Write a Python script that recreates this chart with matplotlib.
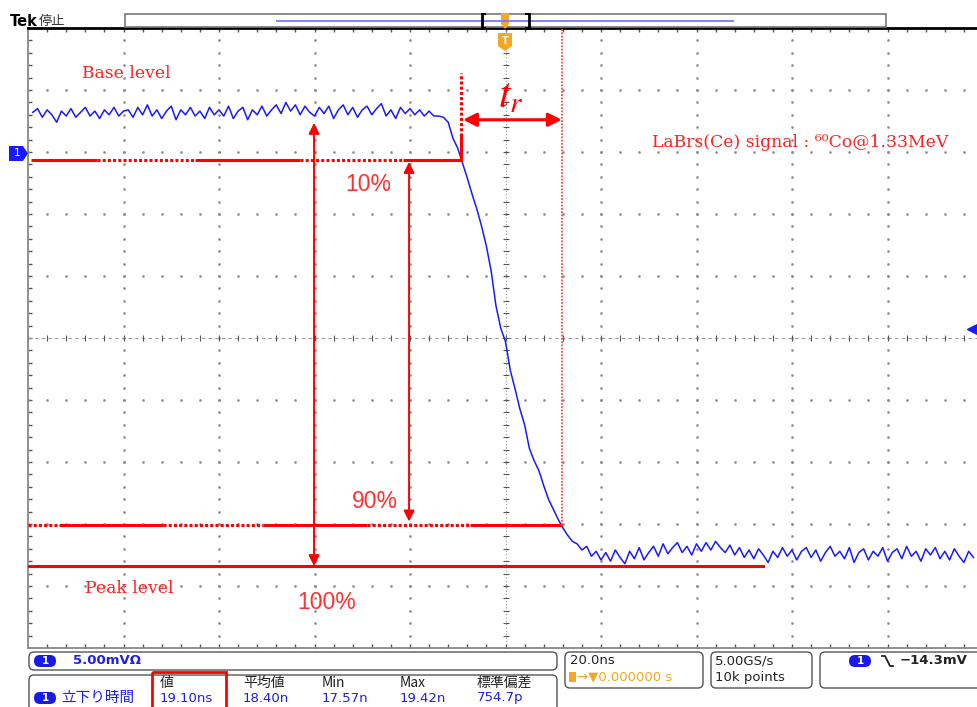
import numpy as np
import matplotlib
matplotlib.use("Agg")
import matplotlib.pyplot as plt
from matplotlib.patches import FancyBboxPatch, Polygon, Rectangle

# ─────────────────────────────────────────────
#  Scope settings / values
#  (20 ns/div, 5 mV/div, ground marker 3 div above centre)
# ─────────────────────────────────────────────

T_START_NS = -99          # first sample, 1 ns per sample
trace_mv = [
    3.2, 3.5, 2.8, 3.4, 3.0, 2.4, 3.3, 2.9, 3.5, 2.8,
    3.2, 3.6, 2.9, 3.3, 2.7, 3.4, 3.0, 3.6, 2.9, 3.3,
    3.4, 2.8, 3.6, 3.0, 3.8, 2.9, 3.4, 2.7, 3.3, 3.7,
    2.6, 3.4, 3.0, 3.6, 2.9, 3.3, 2.7, 3.6, 3.0, 3.4,
    2.9, 3.7, 2.7, 3.3, 3.6, 2.6, 3.4, 3.0, 3.7, 2.9,
    3.4, 3.8, 3.1, 4.0, 3.3, 3.8, 3.0, 3.7, 3.2, 2.9,
    3.6, 3.1, 3.7, 2.7, 3.4, 3.8, 3.0, 3.6, 2.8, 3.4,
    3.7, 3.0, 3.5, 3.9, 2.9, 3.4, 2.7, 3.6, 3.1, 3.5,
    3.0, 3.4, 2.9, 3.3, 2.9, 2.9,
    # falling edge
    2.8, 2.4, 1.1, 0.3, -0.9, -2.1, -3.4, -4.6, -6.0, -7.6,
    -9.6, -12.4, -14.2, -15.3, -17.6, -19.1, -20.7, -22.0, -23.9, -24.9,
    -25.7, -26.9, -28.0, -28.8, -29.6, -30.3, -30.9, -31.4, -31.6, -32.1,
    -31.8, -32.6, -32.2, -32.9,
    # tail
    -32.3, -33.0, -32.1, -32.7, -33.2, -32.2, -32.8, -31.9, -32.9, -32.3,
    -31.8, -32.6, -31.6, -32.4, -31.9, -31.5, -32.3, -31.8, -32.5, -31.6,
    -32.2, -31.5, -32.1, -31.4, -31.9, -32.3, -31.7, -32.5, -31.9, -32.7,
    -32.1, -32.8, -32.0, -32.5, -33.1, -32.2, -32.7, -31.9, -32.6, -32.1,
    -32.9, -32.2, -31.9, -32.7, -32.1, -33.0, -32.3, -31.8, -32.6, -32.2,
    -32.8, -31.9, -33.1, -32.3, -32.0, -32.9, -32.2, -32.6, -31.9, -33.0,
    -32.3, -32.0, -32.8, -31.8, -32.6, -32.2, -33.0, -32.0, -32.5, -31.9,
    -32.8, -32.2, -32.9, -32.0, -32.6, -33.1, -32.2, -32.7,
]
time_ns = np.arange(T_START_NS, T_START_NS + len(trace_mv))

TRIG_MV = -14.3
LEVEL10_MV = -0.65
LEVEL90_MV = -30.1
PEAK_MV = -33.4
BASE_ARROW_MV = 2.35
TR_ARROW_MV = 2.6
T10_NS = -9.3
T90_NS = 11.8

# breakpoints of the hand-drawn level lines (solid / dotted pieces)
level10_breaks = [-99.4, -85.5, -65.0, -43.0, -21.5, T10_NS]
level90_breaks = [-100.0, -93.5, -71.7, -50.8, -29.0, -7.4, T90_NS]
PEAK_END_NS = 53.9

measure_heads = ["値", "平均値", "Min", "Max", "標準偏差"]
measure_vals = ["19.10ns", "18.40n", "17.57n", "19.42n", "754.7p"]

RED = "#ff0000"
BLUE = "#1a1aff"
ORANGE = "#f5a623"
CJK = ["Noto Sans CJK JP", "DejaVu Sans"]

# ─────────────────────────────────────────────
#  Figure / graticule
# ─────────────────────────────────────────────

W, H = 977, 707
fig = plt.figure(figsize=(W / 100, H / 100), dpi=100)
ax = fig.add_axes([28 / W, (H - 648) / H, (W - 28) / W, 620 / H])
ax.set_xlim(-100, -100 + (W - 28) / 4.775)
ax.set_ylim(-40, 10)

for side in ["left", "bottom"]:
    ax.spines[side].set_color("#888888")
    ax.spines[side].set_linewidth(1.3)
ax.spines["top"].set_color("black")
ax.spines["top"].set_linewidth(2)
ax.spines["right"].set_visible(False)

ax.set_xticks(np.arange(-96, 100, 4))
ax.set_yticks(np.arange(-39, 10, 1))
ax.tick_params(axis="x", direction="in", length=3, width=1, color="#555555",
               top=True, bottom=True, labelbottom=False)
ax.tick_params(axis="y", direction="in", length=3, width=1, color="#555555",
               left=True, labelleft=False)

dot_kw = dict(linestyle="none", marker="o", markersize=0.9, color="#8c8c8c")
ydots = np.arange(-40, 10.01, 1)
for gx in range(-80, 100, 20):
    if gx != 0:
        ax.plot(np.full_like(ydots, gx), ydots, **dot_kw)
xdots = np.arange(-100, 100, 4)
for gy in range(-35, 10, 5):
    if gy != -15:
        ax.plot(xdots, np.full_like(xdots, gy, dtype=float), **dot_kw)

# centre cross
ax.axhline(-15, color="#999999", lw=0.8, ls=(0, (3, 3)))
ax.axvline(0, color="#999999", lw=0.8, ls=(0, (1, 2)))
ax.plot(xdots, np.full_like(xdots, -15, dtype=float), ls="none", marker="|",
        ms=5, color="#555555", mew=0.8)
ax.plot(np.zeros_like(ydots), ydots, ls="none", marker="_", ms=5,
        color="#555555", mew=0.8)

# ─────────────────────────────────────────────
#  Signal
# ─────────────────────────────────────────────

ax.plot(time_ns, trace_mv, color=BLUE, lw=1.1, zorder=4)
ax.plot(97.8, TRIG_MV, marker="<", color=BLUE, ms=7, clip_on=False, zorder=6)

# ─────────────────────────────────────────────
#  Red annotations
# ─────────────────────────────────────────────

def level_line(breaks, y, first_solid):
    solid = first_solid
    for a, b in zip(breaks[:-1], breaks[1:]):
        ls = "-" if solid else (0, (1, 0.7))
        ax.plot([a, b], [y, y], color=RED, lw=2.2, ls=ls, solid_capstyle="butt",
                zorder=5)
        solid = not solid

level_line(level10_breaks, LEVEL10_MV, True)
level_line(level90_breaks, LEVEL90_MV, False)
ax.plot([-100, PEAK_END_NS], [PEAK_MV, PEAK_MV], color=RED, lw=2.2, zorder=5)

# 10 % marker (vertical) and 90 % marker
ax.plot([T10_NS, T10_NS], [LEVEL10_MV, 1.3], color=RED, lw=2.2, zorder=5)
ax.plot([T10_NS, T10_NS], [1.3, 6.4], color=RED, lw=2.2, ls=(0, (1, 0.7)), zorder=5)
ax.plot([T90_NS, T90_NS], [LEVEL90_MV, 9.9], color="#ff4a4a", lw=1.3,
        ls=(0, (1, 0.8)), zorder=5)

arrow = dict(arrowstyle="<|-|>", color=RED, shrinkA=0, shrinkB=0)
ax.annotate("", xy=(T10_NS + 0.4, TR_ARROW_MV), xytext=(T90_NS, TR_ARROW_MV),
            arrowprops=dict(arrow, lw=2.2, mutation_scale=20), zorder=6)
ax.annotate("", xy=(-40.1, BASE_ARROW_MV), xytext=(-40.1, PEAK_MV),
            arrowprops=dict(arrow, lw=1.4, mutation_scale=16), zorder=6)
ax.annotate("", xy=(-20.2, -0.8), xytext=(-20.2, -29.8),
            arrowprops=dict(arrow, lw=1.4, mutation_scale=16), zorder=6)

serif = dict(family="DejaVu Serif", color="#ff2020", va="center", ha="left")
ax.text(-88.7, 6.3, "Base level", fontsize=12.4, **serif)
ax.text(-88.1, -35.2, "Peak level", fontsize=12.4, **serif)
ax.text(30.7, 0.8, "LaBrs(Ce) signal : \u2076\u2070Co@1.33MeV", fontsize=12.4, **serif)
pct = dict(family="Liberation Sans", color="#ff3030", va="center", ha="left",
           fontsize=16.5)
ax.text(-33.6, -2.65, "10%", **pct)
ax.text(-32.1, -28.2, "90%", **pct)
ax.text(-43.7, -36.3, "100%", **pct)
ax.text(1.2, 4.6, r"$t_r$", color=RED, fontsize=30, ha="center", va="center",
        math_fontfamily="stix")

# ─────────────────────────────────────────────
#  Screen chrome (pixel overlay)
# ─────────────────────────────────────────────

ov = fig.add_axes([0, 0, 1, 1], zorder=5)
ov.set_xlim(0, W)
ov.set_ylim(H, 0)
ov.axis("off")
ov.patch.set_alpha(0)

# top: status + record bar
ov.text(10, 21, "Tek", fontsize=10.5, fontweight="bold", va="center",
        family="DejaVu Sans")
ov.text(39, 21, "停止", fontsize=9.5, va="center", family=CJK, color="#333333")
ov.add_patch(Rectangle((125, 14), 761, 13, fill=False, ec="#777777", lw=1.2))
ov.plot([277, 733], [20.5, 20.5], color="#7777ff", lw=1.3)
for bx, d in [(482, 1), (529, -1)]:
    ov.plot([bx, bx], [14, 28], color="black", lw=2)
    ov.plot([bx, bx + 3 * d], [14, 14], color="black", lw=1.5)
    ov.plot([bx, bx + 3 * d], [28, 28], color="black", lw=1.5)
ov.add_patch(Polygon([(501, 13), (509, 13), (509, 24), (505, 29), (501, 24)],
                     closed=True, fc=ORANGE, ec="none"))
ov.add_patch(Polygon([(498, 33), (512, 33), (512, 46), (505, 51), (498, 46)],
                     closed=True, fc=ORANGE, ec="none"))
ov.text(505, 41, "T", color="white", fontsize=7, fontweight="bold",
        ha="center", va="center")

# channel 1 ground marker
ov.add_patch(Polygon([(9, 146), (23, 146), (28, 153.5), (23, 161), (9, 161)],
                     closed=True, fc=BLUE, ec="none"))
ov.text(17, 153.5, "1", color="white", fontsize=7.5, ha="center", va="center")


def box(x, y, w, h):
    ov.add_patch(FancyBboxPatch((x, y), w, h, boxstyle="round,pad=0,rounding_size=5",
                                fc="white", ec="#555555", lw=1, clip_on=False))


def badge(x, y):
    ov.add_patch(FancyBboxPatch((x, y), 22, 12, boxstyle="round,pad=0,rounding_size=6",
                                fc="#1a1ae6", ec="none"))
    ov.text(x + 11, y + 6, "1", color="white", fontsize=7.5, fontweight="bold",
            ha="center", va="center")


mono = dict(family="DejaVu Sans", fontsize=9.5, va="center", ha="left")
box(29, 652, 528, 18)
badge(34, 655)
ov.text(73, 661, "5.00mVΩ", color="#1f1fe6", fontweight="bold", **mono)

box(29, 675, 528, 45)
badge(34, 692)
ov.text(61, 698, "立下り時間", color="#1f1fe6", fontsize=10.5, va="center",
        family=CJK)
for hx, head, val in zip([160, 243, 322, 400, 477], measure_heads, measure_vals):
    ov.text(hx, 683, head, color="#222222", fontsize=10, va="center", family=CJK)
    ov.text(hx, 698, val, color="#1f1fe6", **mono)
ov.add_patch(Rectangle((152, 672), 74, 40, fill=False, ec=RED, lw=2))

box(565, 652, 138, 36)
ov.text(570, 661, "20.0ns", color="#222222", **mono)
ov.add_patch(Rectangle((569, 672), 7, 10, fc=ORANGE, ec="none"))
ov.text(577, 677, "→▼0.000000 s", color=ORANGE, **mono)

box(711, 652, 101, 36)
ov.text(715, 661, "5.00GS/s", color="#222222", **mono)
ov.text(715, 677, "10k points", color="#222222", **mono)

box(820, 652, 170, 36)
badge(849, 655)
ov.plot([882, 885, 890, 893], [656, 656, 666, 666], color="#222222", lw=1.3)
ov.text(900, 661, "−14.3mV", color="#222222", fontweight="bold", **mono)

fig.savefig("out.png", dpi=100)
